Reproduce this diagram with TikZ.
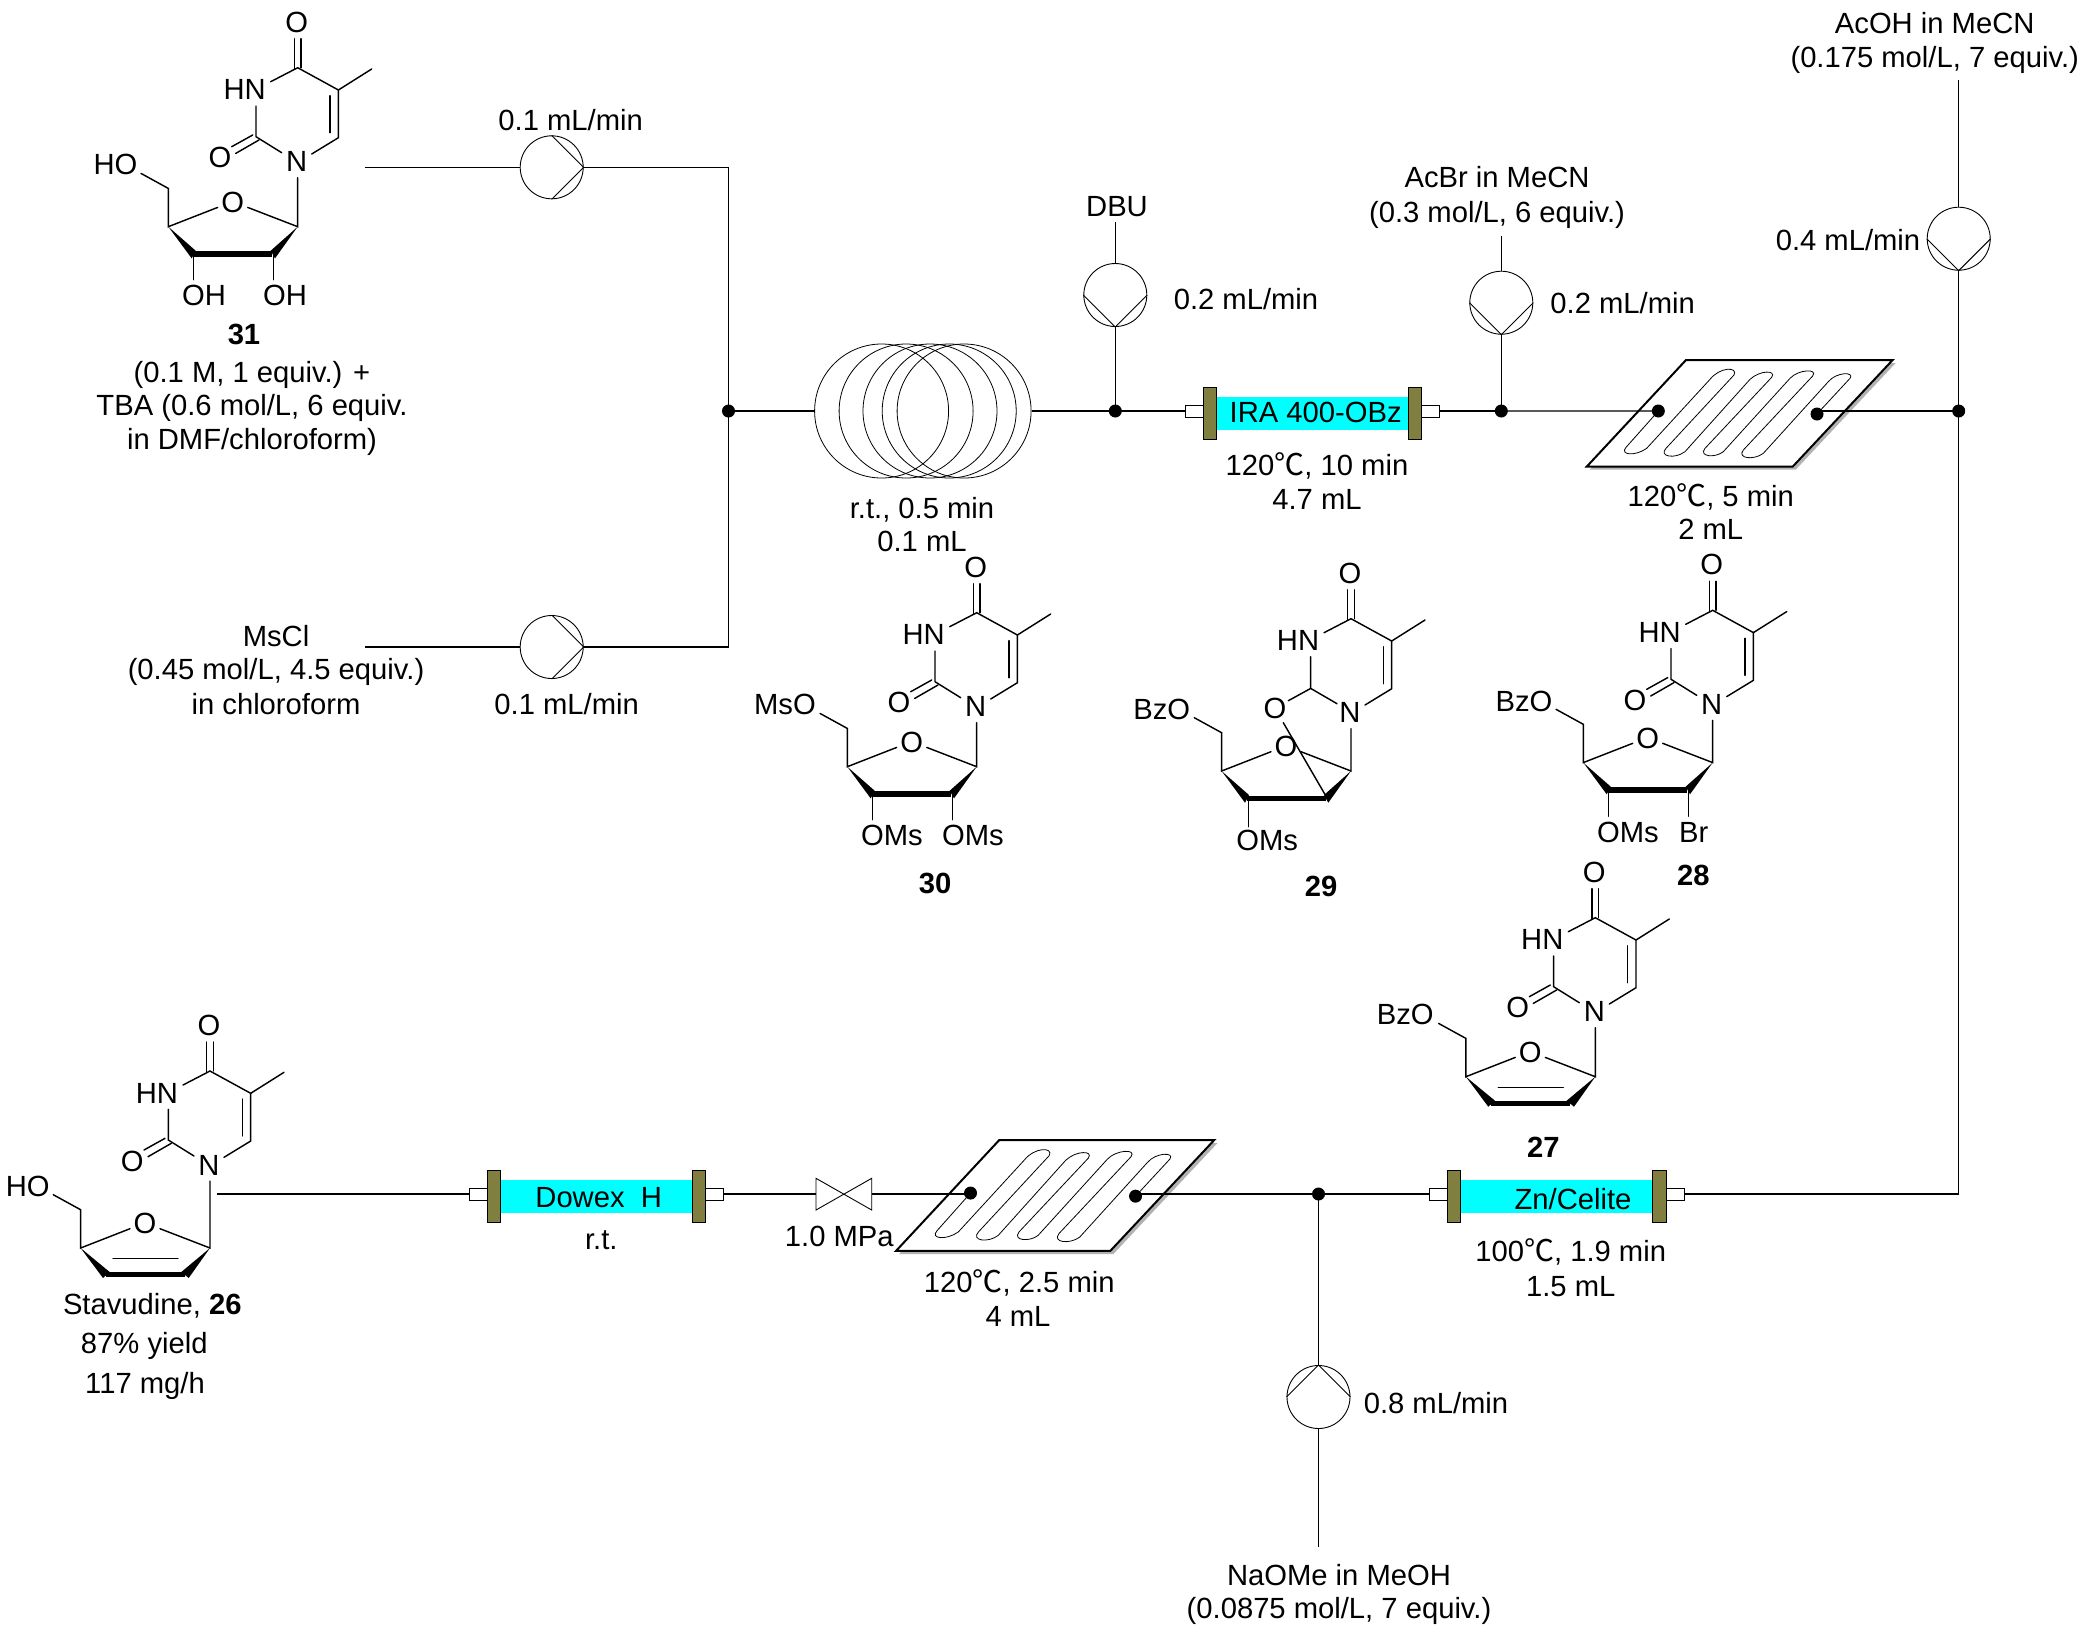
\documentclass[tikz,border=0pt]{standalone}
\usepackage{fontspec}
\setmainfont{Liberation Sans}
\newfontfamily\cjkfont{Noto Sans CJK SC}
\newcommand{\degc}{{\cjkfont\fontsize{15}{15}\selectfont ℃}}
\tikzset{
  px/.style={x=0.5pt,y=-0.5pt},
  txt/.style={inner sep=0pt,font=\fontsize{14.6}{17}\selectfont},
  boldtxt/.style={inner sep=0pt,font=\fontsize{14.6}{17}\selectfont\bfseries},
  atom/.style={inner sep=0pt,font=\fontsize{14.6}{17}\selectfont},
  bond/.style={line width=0.72pt,line cap=round},
  flow/.style={line width=0.55pt},
  thinline/.style={line width=0.45pt},
  pumpc/.style={circle,draw,line width=0.45pt,fill=white,minimum size=31.5pt,inner sep=0pt},
  coilc/.style={circle,draw,line width=0.4pt,minimum size=67pt,inner sep=0pt},
  jdot/.style={circle,fill=black,minimum size=6.5pt,inner sep=0pt},
  stubbox/.style={rectangle,draw,line width=0.45pt,fill=white,minimum width=9pt,minimum height=6pt,inner sep=0pt},
  flange/.style={rectangle,draw,line width=0.35pt,fill=olivec,minimum width=6.8pt,minimum height=26pt,inner sep=0pt},
  cyanbar/.style={rectangle,fill=cyanc,minimum width=96pt,minimum height=16.7pt,inner sep=0pt},
}
\definecolor{olivec}{HTML}{807F3F}
\definecolor{cyanc}{HTML}{00FFFF}
% pyrimidine ring, origin on N1
\newcommand{\pyrtop}[1]{%
  \node[atom] (#1N) at (0,0) {N};
  \node[atom] (#1Otop) at (0,-139.5) {O};
  \node[atom] (#1HN) at (-52,-72) {HN};
  \draw[bond] (-2.3,-123)--(-2.3,-93);
  \draw[bond] (4.3,-123)--(4.3,-94);
  \draw[bond] (-26,-80)--(1,-94)--(41.7,-71.7)--(41.7,-24)--(15,-7.7);
  \draw[bond] (41.7,-71.7)--(75,-92.7);
  \draw[bond] (33.4,-66)--(33.4,-29);
}
\newcommand{\pyrketo}[1]{%
  \pyrtop{#1}
  \node[atom] (#1Otwo) at (-76.7,-4) {O};
  \draw[bond] (-15,-9)--(-40.7,-25)--(-40.7,-55.7);
  \draw[bond] (-65,-15)--(-44,-26.7);
  \draw[bond] (-61,-8.3)--(-37.7,-21.7);
}
% furanose frame, origin on N1, #2 = vertical offset of sugar
\newcommand{\furcommon}[2]{%
  \begin{scope}[shift={(0,#2)}]
  \node[atom] (#1Ofour) at (-64,40.7) {O};
  \draw[bond] (-49,45.7)--(1,65)--(1,16-#2);
  \draw[bond] (-79,45.7)--(-128.4,65)--(-128.4,26.7)--(-155.7,11.7);
  \end{scope}
}
\newcommand{\fursat}[2]{%
  \furcommon{#1}{#2}
  \begin{scope}[shift={(0,#2)}]
  \fill (-128.4,65)--(-101,89)--(-105,96.7)--cycle;
  \fill (1,65)--(-26,89)--(-21.7,96.7)--cycle;
  \draw[line width=2.75pt] (-103.4,92.3)--(-24.4,92.3);
  \end{scope}
}
\newcommand{\furene}[2]{%
  \furcommon{#1}{#2}
  \begin{scope}[shift={(0,#2)}]
  \fill (-128.4,65)--(-99.3,89)--(-106,95)--cycle;
  \fill (1,65)--(-27.7,89)--(-20.3,95)--cycle;
  \draw[line width=2.75pt] (-103,91.7)--(-24,91.7);
  \draw[bond] (-96,75.7)--(-31,75.7);
  \end{scope}
}
\newcommand{\pumpnode}[3]{\node[pumpc] (#1) at (#2,#3) {};}
\newcommand{\pumpright}[1]{\draw[thinline] (#1.north)--(#1.east)--(#1.south);}
\newcommand{\pumpdown}[1]{\draw[thinline] (#1.west)--(#1.south)--(#1.east);}
\newcommand{\pumpup}[1]{\draw[thinline] (#1.west)--(#1.north)--(#1.east);}
% column: #1 name, #2 left end x, #3 line y
\newcommand{\column}[3]{%
  \begin{scope}[shift={(#2,#3)}]
  \node[cyanbar] (#1C) at (127.2,2.7) {};
  \node[flange] (#1FL) at (24.5,2) {};
  \node[flange] (#1FR) at (229.6,2) {};
  \node[stubbox] (#1L) at (9,0) {};
  \node[stubbox] (#1R) at (245.5,0) {};
  \end{scope}
}
% chip: #1 name, #2 #3 top-left corner, #4 scale
\newcommand{\chip}[4]{%
  \begin{scope}[shift={(#2,#3)},scale=#4,shift={(-378,-60)}]
  \fill[black!30] (387,69)--(1007,69)--(707,389)--(89,389)--cycle;
  \draw[line width=1pt,fill=white] (378,60)--(998,60)--(698,380)--(80,380)--cycle;
  \draw[line width=0.4pt] (295,213)--(198,322) .. controls (178,345) and (225,350) .. (260,325)
   --(450,118) .. controls (480,80) and (535,80) .. (522,105)
   --(318,325) .. controls (295,350) and (345,358) .. (375,335)
   --(570,118) .. controls (600,90) and (650,90) .. (635,112)
   --(435,325) .. controls (415,350) and (465,355) .. (490,335)
   --(690,115) .. controls (715,88) and (775,85) .. (758,108)
   --(550,330) .. controls (530,355) and (580,362) .. (610,340)
   --(805,125) .. controls (830,95) and (885,95) .. (870,115)
   --(771,222);
  \node[jdot] (#1a) at (295,213) {};
  \node[jdot] (#1b) at (771,222) {};
  \end{scope}
}
\begin{document}
\begin{tikzpicture}[px]
\useasboundingbox (0,0) rectangle (2090,1646);
\fill[white] (0,0) rectangle (2090,1646);

% ---------- molecules ----------
% 31
\begin{scope}[shift={(296.7,161.7)}]
  \pyrketo{m31}
  \fursat{m31}{0}
  \node[atom,anchor=east] (m31a) at (-159,2.7) {HO};
  \node[atom,anchor=west] (m31b) at (-115,133.3) {OH};
  \node[atom,anchor=west] (m31c) at (-34,133.3) {OH};
  \draw[bond] (-103.4,92.3)--(-103.4,118);
  \draw[bond] (-23.4,92.3)--(-23.4,118);
\end{scope}
% 30
\begin{scope}[shift={(975.7,706.7)}]
  \pyrketo{m30}
  \fursat{m30}{-5}
  \node[atom,anchor=east] (m30a) at (-159.5,-2.3) {MsO};
  \node[atom,anchor=west] (m30b) at (-115,128.3) {OMs};
  \node[atom,anchor=west] (m30c) at (-34,128.3) {OMs};
  \draw[bond] (-103.4,87)--(-103.4,113);
  \draw[bond] (-23.4,87)--(-23.4,113);
\end{scope}
% 29
\begin{scope}[shift={(1350,712.7)}]
  \pyrtop{m29}
  \node[atom] (m29Otwo) at (-75,-4.3) {O};
  \draw[bond] (-13,-9)--(-39.3,-24.3)--(-39.3,-56);
  \draw[bond] (-61.7,-12)--(-39.3,-24.3);
  \fursat{m29}{-6.7}
  \node[atom,anchor=east] (m29a) at (-159.5,-3.3) {BzO};
  \node[atom,anchor=west] (m29b) at (-114,127.3) {OMs};
  \draw[bond] (-101.7,85.7)--(-101.7,114);
  \draw[bond] (-66.7,10)--(-22.7,85.7);
\end{scope}
% 28
\begin{scope}[shift={(1711.7,704.3)}]
  \pyrketo{m28}
  \fursat{m28}{-6.7}
  \node[atom,anchor=east] (m28a) at (-159,-2.7) {BzO};
  \node[atom,anchor=west] (m28b) at (-115,128.3) {OMs};
  \node[atom,anchor=west] (m28c) at (-33,128.3) {Br};
  \draw[bond] (-103.4,85)--(-103.4,112);
  \draw[bond] (-23.4,85)--(-23.4,112);
\end{scope}
% 27
\begin{scope}[shift={(1594.3,1011.7)}]
  \pyrketo{m27}
  \furene{m27}{0}
  \node[atom,anchor=east] (m27a) at (-160.3,2.7) {BzO};
\end{scope}
% 26
\begin{scope}[shift={(209,1165)}]
  \pyrketo{m26}
  \furene{m26}{18}
  \node[atom,anchor=east] (m26a) at (-159,21.7) {HO};
\end{scope}

% ---------- reactors ----------
\node[coilc] (c1) at (881.6,411) {};
\node[coilc] (c2) at (906.1,411) {};
\node[coilc] (c3) at (930,411) {};
\node[coilc] (c4) at (949.2,411) {};
\node[coilc] (c5) at (964.1,411) {};
\column{ira}{1185.4}{411}
\column{zn}{1429.5}{1194}
\column{dow}{469.3}{1194}
\chip{ca}{1686}{360}{0.3333}
\chip{cb}{999.3}{1140}{0.3467}

% ---------- pumps ----------
\pumpnode{p1}{551.7}{167.3}
\pumpnode{p2}{551.7}{647}
\pumpnode{p3}{1115.3}{295}
\pumpnode{p4}{1501.3}{302.7}
\pumpnode{p5}{1958.7}{238.7}
\pumpnode{p6}{1318.5}{1397}
\pumpright{p1}\pumpright{p2}\pumpdown{p3}\pumpdown{p4}\pumpdown{p5}\pumpup{p6}

% ---------- junctions and free ends ----------
\node[jdot] (j1) at (728.5,411) {};
\node[jdot] (j2) at (1115.3,411) {};
\node[jdot] (j3) at (1501.3,411) {};
\node[jdot] (j4) at (1958.7,411) {};
\node[jdot] (j5) at (1318.5,1194) {};
\coordinate (s1) at (365,167.3);
\coordinate (s2) at (365,647);
\coordinate (s3) at (1115.3,221.7);
\coordinate (s4) at (1501.3,236);
\coordinate (s5) at (1958.7,80);
\coordinate (s6) at (1318.5,1547);
\coordinate (e1) at (216.7,1194);

% valve
\coordinate (vL) at (816,1194);
\coordinate (vR) at (871.7,1194);
\draw[thinline] (816,1178.3)--(871.7,1210)--(871.7,1178.3)--(816,1210)--cycle;

% ---------- connectors ----------
\draw[flow] (s1)--(p1.west);
\draw[flow] (p1.east)-|(j1.center);
\draw[flow] (s2)--(p2.west);
\draw[flow] (p2.east)-|(j1.center);
\draw[flow] (j1.center)--(c1.west);
\draw[flow] (c5.east)--(j2.center);
\draw[flow] (j2.center)--(iraL.west);
\draw[flow] (s3)--(p3.north);
\draw[flow] (p3.south)--(j2.center);
\draw[flow] (iraR.east)--(j3.center);
\draw[flow] (s4)--(p4.north);
\draw[flow] (p4.south)--(j3.center);
\draw[flow] (j3.center)--(caa.center);
\draw[flow] (cab.center|-j4.center)--(j4.center);
\draw[flow] (s5)--(p5.north);
\draw[flow] (p5.south)--(j4.center);
\draw[flow] (j4.center)|-(znR.east);
\draw[flow] (znL.west)--(j5.center);
\draw[flow] (j5.center)--(cbb.center|-j5.center);
\draw[flow] (j5.center)--(p6.north);
\draw[flow] (p6.south)--(s6);
\draw[flow] (cba.center|-vR)--(vR);
\draw[flow] (vL)--(dowR.east);
\draw[flow] (dowL.west)--(e1);

% ---------- labels ----------
\node[txt] (t1) at (570.7,120) {0.1 mL/min};
\node[txt] (t2) at (566.7,704) {0.1 mL/min};
\node[txt] (t3) at (1246,298.7) {0.2 mL/min};
\node[txt] (t4) at (1622.7,303) {0.2 mL/min};
\node[txt] (t5) at (1848,240) {0.4 mL/min};
\node[txt] (t6) at (1436,1402.7) {0.8 mL/min};
\node[txt] (t7) at (1117,206.7) {DBU};
\node[txt] (t8) at (1497,177) {AcBr in MeCN};
\node[txt] (t9) at (1497,214.5) {(0.3 mol/L, 6 equiv.)};
\node[txt] (t10) at (1934.7,22.7) {AcOH in MeCN};
\node[txt] (t11) at (1934.7,60) {(0.175 mol/L, 7 equiv.)};
\node[txt] (t12) at (1339,1574.7) {NaOMe in MeOH};
\node[txt] (t13) at (1339,1611) {(0.0875 mol/L, 7 equiv.)};
\node[boldtxt] (t14) at (244,334.7) {31};
\node[txt] (t15) at (252,374.5) {(0.1 M, 1 equiv.) +};
\node[txt] (t16) at (252,408) {TBA (0.6 mol/L, 6 equiv.};
\node[txt] (t17) at (252,442) {in DMF/chloroform)};
\node[txt] (t18) at (276,636) {MsCl};
\node[txt] (t19) at (276,672) {(0.45 mol/L, 4.5 equiv.)};
\node[txt] (t20) at (276,704.5) {in chloroform};
\node[txt] (t21) at (922,509.5) {r.t., 0.5 min};
\node[txt] (t22) at (922,541.7) {0.1 mL};
\node[txt] (t23) at (1315.7,412.7) {IRA 400-OBz};
\node[txt] (t24) at (1317,465.7) {120\degc, 10 min};
\node[txt] (t25) at (1317,499) {4.7 mL};
\node[txt] (t26) at (1710.7,496.5) {120\degc, 5 min};
\node[txt] (t27) at (1710.7,529.5) {2 mL};
\node[boldtxt] (t28) at (935,883.3) {30};
\node[boldtxt] (t29) at (1321,886.7) {29};
\node[boldtxt] (t30) at (1693.3,875) {28};
\node[boldtxt] (t31) at (1543.3,1147.7) {27};
\node[txt] (t32) at (1573,1198.7) {Zn/Celite};
\node[txt] (t33) at (1570.7,1252) {100\degc, 1.9 min};
\node[txt] (t34) at (1570.7,1286.7) {1.5 mL};
\node[txt] (t35) at (1019.3,1283) {120\degc, 2.5 min};
\node[txt] (t36) at (1018,1316.7) {4 mL};
\node[txt] (t37) at (839.3,1236.7) {1.0 MPa};
\node[txt] (t38) at (598.7,1197.3) {Dowex\ \ H};
\node[txt] (t39) at (601.3,1240) {r.t.};
\node[txt] (t40) at (152.3,1306) {Stavudine, \textbf{26}};
\node[txt] (t41) at (144.3,1346) {87\% yield};
\node[txt] (t42) at (145,1386) {117 mg/h};
\end{tikzpicture}
\end{document}
